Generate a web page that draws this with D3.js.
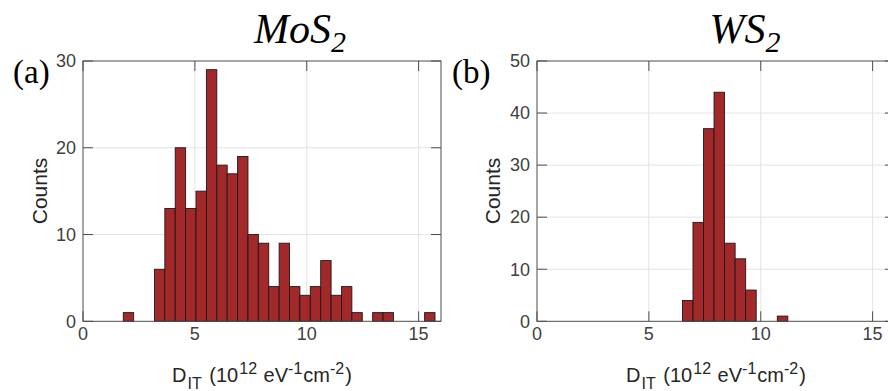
<!DOCTYPE html>
<html>
<head>
<meta charset="utf-8">
<script src="https://cdn.jsdelivr.net/npm/d3@7"></script>
<style>
  body { margin: 0; background: #fff; }
  svg { display: block; }
</style>
</head>
<body>
<svg id="chart" width="888" height="391"></svg>
<script>
// histogram data (MATLAB style histograms)
const mosBinStart = 1.8;
const mosBinWidth = 0.4644;
const mosCounts = [1, 0, 0, 6, 13, 20, 13, 15, 29, 18, 17, 19, 10, 9, 4, 9, 4, 3, 4, 7, 3, 4, 1, 0, 1, 1, 0, 0, 0, 1];

const wsBinStart = 6.5;
const wsBinWidth = 0.471;
const wsCounts = [4, 19, 37, 44, 15, 12, 6, 0, 0, 1];

const xTicks = [0, 5, 10, 15];
const mosYTicks = [0, 10, 20, 30];
const wsYTicks = [0, 10, 20, 30, 40, 50];

const svg = d3.select("#chart");
const barFill = "#a2282a";
const axisColor = "#4d4d4d";
const gridColor = "#e3e3e3";
const textColor = "#404040";
const sans = "'Liberation Sans', Arial, sans-serif";
const serif = "'Liberation Serif', 'Times New Roman', serif";

function drawPanel(cfg) {
  const g = svg.append("g");
  const x = d3.scaleLinear().domain([0, 16]).range([cfg.left, cfg.left + 358]);
  const y = d3.scaleLinear().domain([0, cfg.yMax]).range([321.3, 61]);

  const bins = cfg.counts.map((c, i) => ({
    x0: cfg.binStart + i * cfg.binWidth,
    x1: cfg.binStart + (i + 1) * cfg.binWidth,
    count: c
  }));

  // grid
  g.selectAll("line.vgrid")
    .data(xTicks.filter(t => t > 0))
    .join("line")
    .attr("x1", d => x(d)).attr("x2", d => x(d))
    .attr("y1", y(cfg.yMax)).attr("y2", y(0))
    .attr("stroke", gridColor).attr("stroke-width", 1);
  g.selectAll("line.hgrid")
    .data(cfg.yTicks.filter(t => t > 0 && t < cfg.yMax))
    .join("line")
    .attr("x1", x(0)).attr("x2", x(16))
    .attr("y1", d => y(d)).attr("y2", d => y(d))
    .attr("stroke", gridColor).attr("stroke-width", 1);

  // inward ticks on all four sides
  const tl = 10;
  xTicks.forEach(t => {
    g.append("line").attr("x1", x(t)).attr("x2", x(t))
      .attr("y1", y(0)).attr("y2", y(0) - tl).attr("stroke", axisColor);
    g.append("line").attr("x1", x(t)).attr("x2", x(t))
      .attr("y1", y(cfg.yMax)).attr("y2", y(cfg.yMax) + tl).attr("stroke", axisColor);
  });
  cfg.yTicks.forEach(t => {
    g.append("line").attr("x1", x(0)).attr("x2", x(0) + tl)
      .attr("y1", y(t)).attr("y2", y(t)).attr("stroke", axisColor);
    g.append("line").attr("x1", x(16)).attr("x2", x(16) - tl)
      .attr("y1", y(t)).attr("y2", y(t)).attr("stroke", axisColor);
  });

  // bars
  g.selectAll("rect.bar")
    .data(bins.filter(b => b.count > 0))
    .join("rect")
    .attr("class", "bar")
    .attr("x", d => x(d.x0))
    .attr("width", d => x(d.x1) - x(d.x0))
    .attr("y", d => y(d.count))
    .attr("height", d => y(0) - y(d.count))
    .attr("fill", barFill)
    .attr("stroke", "#1a1a1a")
    .attr("stroke-width", 0.9);

  // box
  g.append("rect")
    .attr("x", x(0)).attr("y", y(cfg.yMax))
    .attr("width", x(16) - x(0)).attr("height", y(0) - y(cfg.yMax))
    .attr("fill", "none").attr("stroke", axisColor).attr("stroke-width", 1);

  // tick labels
  g.selectAll("text.xt")
    .data(xTicks)
    .join("text")
    .attr("x", d => x(d)).attr("y", 339.5)
    .attr("text-anchor", "middle")
    .attr("font-family", sans).attr("font-size", 18)
    .attr("fill", textColor)
    .text(d => d);
  g.selectAll("text.yt")
    .data(cfg.yTicks)
    .join("text")
    .attr("x", x(0) - 7).attr("y", d => y(d))
    .attr("dy", "0.35em")
    .attr("text-anchor", "end")
    .attr("font-family", sans).attr("font-size", 18)
    .attr("fill", textColor)
    .text(d => d);

  // y label
  g.append("text")
    .attr("transform", `translate(${cfg.ylabelX},191) rotate(-90)`)
    .attr("text-anchor", "middle")
    .attr("font-family", sans).attr("font-size", 21)
    .attr("fill", "#262626")
    .text("Counts");

  // x label with sub/superscripts
  const xl = g.append("text")
    .attr("x", (x(0) + x(16)) / 2).attr("y", 381.5)
    .attr("text-anchor", "middle")
    .attr("font-family", sans).attr("font-size", 20)
    .attr("fill", "#262626");
  xl.append("tspan").text("D");
  xl.append("tspan").attr("font-size", 16).attr("dx", 1).attr("dy", 7).text("IT");
  xl.append("tspan").attr("dx", 2).attr("dy", -7).text(" (10");
  xl.append("tspan").attr("font-size", 16).attr("dx", 1).attr("dy", -8).text("12");
  xl.append("tspan").attr("dx", 1).attr("dy", 8).text(" eV");
  xl.append("tspan").attr("font-size", 16).attr("dy", -8).text("-1");
  xl.append("tspan").attr("dx", 1).attr("dy", 8).text("cm");
  xl.append("tspan").attr("font-size", 16).attr("dy", -8).text("-2");
  xl.append("tspan").attr("dx", 1).attr("dy", 8).text(")");

  // title
  const tt = g.append("text")
    .attr("x", cfg.titleX).attr("y", 43)
    .attr("text-anchor", "middle")
    .attr("font-family", serif).attr("font-style", "italic")
    .attr("font-size", 42).attr("fill", "#000");
  tt.append("tspan").text(cfg.title);
  tt.append("tspan").attr("font-size", 30).attr("dy", 9).text("2");

  // panel letter
  g.append("text")
    .attr("x", cfg.letterX).attr("y", 82.5)
    .attr("font-family", serif).attr("font-size", 33)
    .attr("fill", "#000")
    .text(cfg.letter);
}

drawPanel({
  left: 83, yMax: 30, yTicks: mosYTicks,
  binStart: mosBinStart, binWidth: mosBinWidth, counts: mosCounts,
  ylabelX: 47, titleX: 300, title: "MoS", letterX: 13, letter: "(a)"
});
drawPanel({
  left: 537, yMax: 50, yTicks: wsYTicks,
  binStart: wsBinStart, binWidth: wsBinWidth, counts: wsCounts,
  ylabelX: 500, titleX: 745, title: "WS", letterX: 452, letter: "(b)"
});
</script>
</body>
</html>
